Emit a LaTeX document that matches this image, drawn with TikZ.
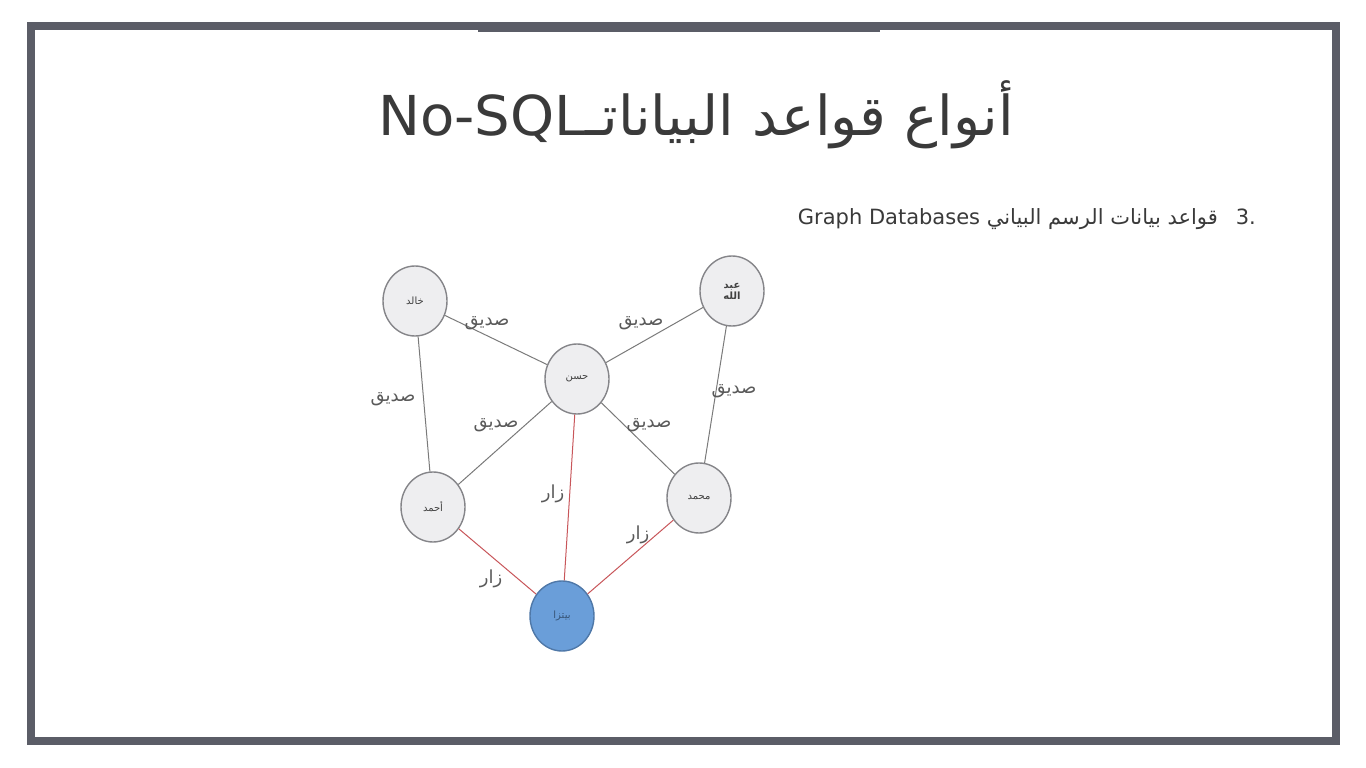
\documentclass[tikz,border=0pt]{standalone}
\usepackage{fontspec}
\setmainfont{DejaVu Sans}
\newfontfamily\arabicfont[Script=Arabic]{DejaVu Sans}
\TeXXeTstate=1
\usetikzlibrary{shapes.geometric}

\definecolor{framegray}{HTML}{5B5D67}
\definecolor{titletext}{HTML}{3A3A3A}
\definecolor{nodefill}{HTML}{EEEEF0}
\definecolor{nodeline}{HTML}{858589}
\definecolor{nodetext}{HTML}{404040}
\definecolor{edgegray}{HTML}{7A7A7A}
\definecolor{edgered}{HTML}{C8565A}
\definecolor{pizzafill}{HTML}{6A9ED9}
\definecolor{pizzaline}{HTML}{4F78A8}
\definecolor{labeltext}{HTML}{5A5A5A}

\begin{document}
\begin{tikzpicture}[x=1pt,y=-1pt,
  person/.style={ellipse, draw=nodeline, fill=nodefill, line width=1.4pt,
    minimum width=64pt, minimum height=70pt, inner sep=0pt,
    font=\arabicfont\fontsize{10}{11}\selectfont, text=nodetext, align=center},
  food/.style={person, draw=pizzaline, fill=pizzafill, text=pizzaline!70!black},
  friend/.style={draw=edgegray, line width=1pt},
  visit/.style={draw=edgered, line width=1pt},
  rel/.style={font=\arabicfont\fontsize{18}{20}\selectfont, text=labeltext, inner sep=0pt}
]
\useasboundingbox (0,0) rectangle (1366,768);
\fill[white] (0,0) rectangle (1366,768);

% slide frame
\draw[framegray, line width=8pt] (31,26) rectangle (1336,741);
\fill[framegray] (478,22) rectangle (880,32);

% heading
\node[font=\arabicfont\fontsize{55}{62}\selectfont, text=titletext, inner sep=0pt, xscale=1.02] (title) at (696,115)
  {\beginR أنواع قواعد البياناتـ\beginL No-SQL\endL\endR};

% list item
\node[font=\arabicfont\fontsize{21}{24}\selectfont, text=titletext, inner sep=0pt, anchor=east] (item) at (1256,219)
  {\beginR\beginL.3\endL\hspace{18pt}قواعد بيانات الرسم البياني \beginL Graph Databases\endL\endR};

% people and food
\node[person] (khalid) at (415,301) {\beginR خالد\endR};
\node[person] (abdullah) at (732,291) {\bfseries\beginR عبد\endR\\\bfseries\beginR الله\endR};
\node[person] (hasan) at (577,379) {\beginR حسن\endR};
\node[person] (ahmad) at (433,507) {\beginR أحمد\endR};
\node[person] (mohammad) at (699,498) {\beginR محمد\endR};
\node[food] (pizza) at (562,616) {\beginR بيتزا\endR};

% friendship edges
\draw[friend] (khalid) -- (hasan);
\draw[friend] (abdullah) -- (hasan);
\draw[friend] (khalid) -- (ahmad);
\draw[friend] (abdullah) -- (mohammad);
\draw[friend] (hasan) -- (ahmad);
\draw[friend] (hasan) -- (mohammad);

% visit edges
\draw[visit] (hasan) -- (pizza);
\draw[visit] (ahmad) -- (pizza);
\draw[visit] (mohammad) -- (pizza);

% edge labels
\node[rel] (l1) at (487,323) {\beginR صديق\endR};
\node[rel] (l2) at (641,323) {\beginR صديق\endR};
\node[rel] (l3) at (393,399) {\beginR صديق\endR};
\node[rel] (l4) at (734,391) {\beginR صديق\endR};
\node[rel] (l5) at (496,425) {\beginR صديق\endR};
\node[rel] (l6) at (649,425) {\beginR صديق\endR};
\node[rel] (l7) at (553,494) {\beginR زار\endR};
\node[rel] (l8) at (491,579) {\beginR زار\endR};
\node[rel] (l9) at (638,535) {\beginR زار\endR};
\end{tikzpicture}
\end{document}
